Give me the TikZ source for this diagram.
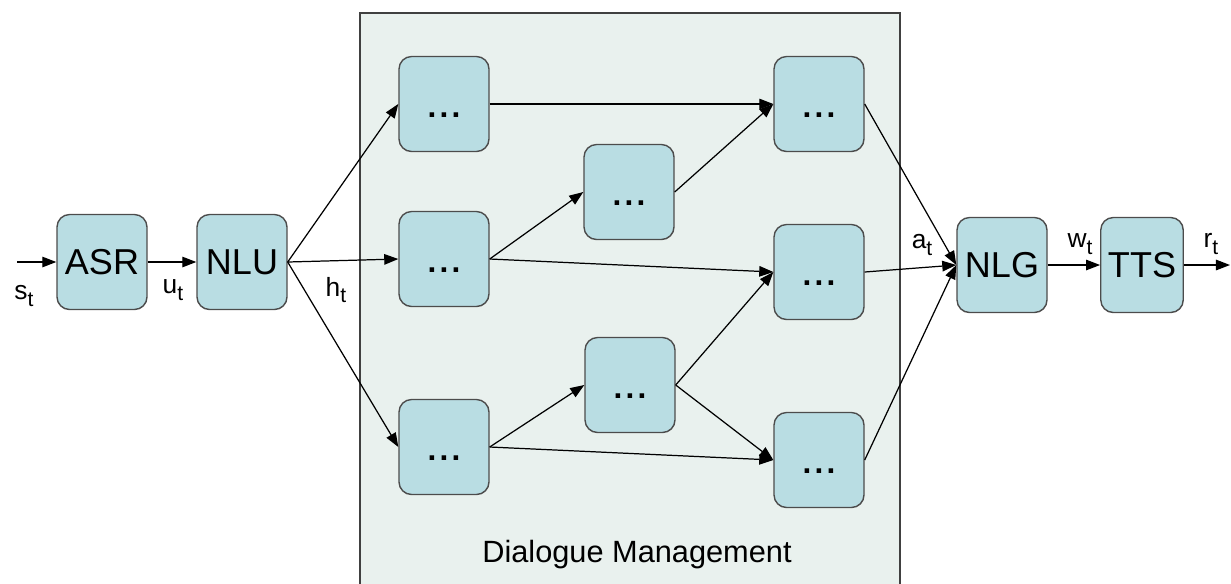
\documentclass[tikz,border=0pt]{standalone}
\usepackage{fontspec}
\setmainfont{Liberation Sans}
\usetikzlibrary{arrows.meta}
\definecolor{boxblue}{RGB}{185,221,227}
\definecolor{dmgreen}{RGB}{233,241,238}
\tikzset{
  block/.style={draw=black!70, fill=boxblue, line width=0.8pt, rounded corners=0.25cm,
    minimum width=1.8cm, minimum height=1.9cm, inner sep=0pt,
    font=\fontsize{20.5}{22}\selectfont},
  dmblock/.style={block, font=\fontsize{18}{22}\selectfont\bfseries},
  sublabel/.style={inner sep=0pt, font=\fontsize{15}{17}\selectfont},
  link/.style={-{Triangle[length=8pt,width=6pt]}, line width=0.7pt},
}
\newcommand{\dotsbox}{\vphantom{\fontsize{22}{24}\selectfont A}.\kern1.8pt.\kern1.8pt.}
\newcommand{\lowsub}[1]{\raisebox{-0.45ex}{\fontsize{12}{13}\selectfont #1}}

\begin{document}
\begin{tikzpicture}[x=0.02cm,y=-0.02cm]
  \useasboundingbox (0,0) rectangle (1231,583);
  % dialogue management area
  \fill[dmgreen] (360,13) rectangle (900,600);
  \draw[black!75, line width=0.7pt] (360,600) -- (360,13) -- (900,13) -- (900,600);
  \node[font=\fontsize{17.5}{20}\selectfont] (dm) at (637,555) {Dialogue Management};

  % pipeline
  \coordinate (in) at (17,262);
  \node[block] (asr) at (102,262) {ASR};
  \node[block] (nlu) at (242,262) {NLU};
  \node[block] (nlg) at (1002,265) {NLG};
  \node[block, minimum width=1.65cm] (tts) at (1142,265) {TTS};
  \coordinate (out) at (1230,265);

  % inner nodes
  \node[dmblock] (d1) at (444,104) {\dotsbox};
  \node[dmblock] (d2) at (444,259) {\dotsbox};
  \node[dmblock] (d3) at (444,447) {\dotsbox};
  \node[dmblock] (m1) at (629,192) {\dotsbox};
  \node[dmblock] (m2) at (630,385) {\dotsbox};
  \node[dmblock] (e1) at (819,104) {\dotsbox};
  \node[dmblock] (e2) at (819,272) {\dotsbox};
  \node[dmblock] (e3) at (819,460) {\dotsbox};

  % labels
  \node[sublabel] (st) at (24,296) {s\lowsub{t}};
  \node[sublabel] (ut) at (173,290) {u\lowsub{t}};
  \node[sublabel] (ht) at (336,290) {h\lowsub{t}};
  \node[sublabel] (at) at (922,245) {a\lowsub{t}};
  \node[sublabel] (wt) at (1080,244) {w\lowsub{t}};
  \node[sublabel] (rt) at (1211,244) {r\lowsub{t}};

  % connectors
  \draw[link] (in) -- (asr);
  \draw[link] (asr) -- (nlu);
  \draw[link] (nlu.east) -- (d1.west);
  \draw[link] (nlu.east) -- (d2.west);
  \draw[link] (nlu.east) -- (d3.west);
  \draw[link] (d1.east) -- (e1.west);
  \draw[link] (d2.east) -- (m1.west);
  \draw[link] (d2.east) -- (e2.west);
  \draw[link] (m1.east) -- (e1.west);
  \draw[link] (d3.east) -- (m2.west);
  \draw[link] (d3.east) -- (e3.west);
  \draw[link] (m2.east) -- (e2.west);
  \draw[link] (m2.east) -- (e3.west);
  \draw[link] (e1.east) -- (nlg.west);
  \draw[link] (e2.east) -- (nlg.west);
  \draw[link] (e3.east) -- (nlg.west);
  \draw[link] (nlg) -- (tts);
  \draw[link] (tts) -- (out);
\end{tikzpicture}
\end{document}
